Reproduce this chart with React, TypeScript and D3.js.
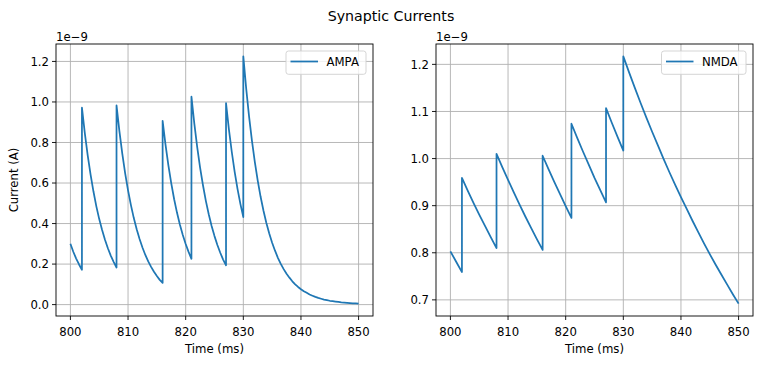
import React from "react";
import * as d3 from "d3";

const timeAmpa: number[] = [
  800, 800.5, 801, 801.5, 802,
  802, 802.5, 803, 803.5, 804, 804.5, 805, 805.5, 806, 806.5, 807, 807.5, 808,
  808, 808.5, 809, 809.5, 810, 810.5, 811, 811.5, 812, 812.5, 813, 813.5, 814, 814.5, 815, 815.5, 816,
  816, 816.5, 817, 817.5, 818, 818.5, 819, 819.5, 820, 820.5, 821,
  821, 821.5, 822, 822.5, 823, 823.5, 824, 824.5, 825, 825.5, 826, 826.5, 827,
  827, 827.5, 828, 828.5, 829, 829.5, 830,
  830, 830.5, 831, 831.5, 832, 832.5, 833, 833.5, 834, 834.5, 835, 835.5, 836, 836.5, 837, 837.5,
  838, 838.5, 839, 839.5, 840, 840.5, 841, 841.5, 842, 842.5, 843, 843.5, 844, 844.5, 845, 845.5,
  846, 846.5, 847, 847.5, 848, 848.5, 849, 849.5, 850,
];

// AMPA current (units of 1e-9 A)
const ampa: number[] = [
  0.300, 0.261, 0.227, 0.198, 0.172,
  0.972, 0.846, 0.736, 0.641, 0.558, 0.485, 0.422, 0.368, 0.320, 0.278, 0.242, 0.211, 0.183,
  0.983, 0.856, 0.745, 0.648, 0.564, 0.491, 0.427, 0.372, 0.324, 0.282, 0.245, 0.213, 0.186, 0.162, 0.141, 0.122, 0.107,
  0.907, 0.789, 0.687, 0.598, 0.520, 0.453, 0.394, 0.343, 0.299, 0.260, 0.226,
  1.026, 0.893, 0.777, 0.676, 0.589, 0.512, 0.446, 0.388, 0.338, 0.294, 0.256, 0.222, 0.194,
  0.994, 0.865, 0.753, 0.655, 0.570, 0.496, 0.432,
  1.225, 1.066, 0.928, 0.808, 0.703, 0.612, 0.532, 0.463, 0.403, 0.351, 0.305, 0.266, 0.231, 0.201, 0.175, 0.152,
  0.133, 0.115, 0.100, 0.087, 0.076, 0.066, 0.058, 0.050, 0.044, 0.038, 0.033, 0.029, 0.025, 0.022, 0.019, 0.017,
  0.015, 0.013, 0.011, 0.0096, 0.0084, 0.0073, 0.0063, 0.0055, 0.0048,
];

const timeNmda: number[] = [
  800, 801, 802,
  802, 803, 804, 805, 806, 807, 808,
  808, 809, 810, 811, 812, 813, 814, 815, 816,
  816, 817, 818, 819, 820, 821,
  821, 822, 823, 824, 825, 826, 827,
  827, 828, 829, 830,
  830, 831, 832, 833, 834, 835, 836, 837, 838, 839, 840, 841, 842, 843, 844, 845, 846, 847, 848, 849, 850,
];

// NMDA current (units of 1e-9 A)
const nmda: number[] = [
  0.803, 0.781, 0.759,
  0.959, 0.932, 0.906, 0.881, 0.857, 0.833, 0.810,
  1.010, 0.982, 0.955, 0.928, 0.902, 0.877, 0.853, 0.829, 0.806,
  1.006, 0.978, 0.951, 0.925, 0.899, 0.874,
  1.074, 1.044, 1.015, 0.987, 0.959, 0.933, 0.907,
  1.107, 1.076, 1.046, 1.017,
  1.217, 1.183, 1.150, 1.118, 1.087, 1.057, 1.028, 0.999, 0.971, 0.944, 0.918, 0.893, 0.868, 0.844, 0.820, 0.797, 0.775, 0.754, 0.733, 0.712, 0.692,
];

const xTicks: number[] = [800, 810, 820, 830, 840, 850];
const ampaTicks: number[] = [0.0, 0.2, 0.4, 0.6, 0.8, 1.0, 1.2];
const nmdaTicks: number[] = [0.7, 0.8, 0.9, 1.0, 1.1, 1.2];

const W = 762;
const H = 365;
const FONT = "DejaVu Sans, sans-serif";
const BLUE = "#1f77b4";
const GRID = "#b0b0b0";
const TICK_FS = 11.7;

type PanelProps = {
  left: number;
  right: number;
  top: number;
  bottom: number;
  t: number[];
  v: number[];
  yTicks: number[];
  label: string;
  yLabel?: string;
  legendW: number;
};

function Panel({ left, right, top, bottom, t, v, yTicks, label, yLabel, legendW }: PanelProps) {
  const [tMin, tMax] = d3.extent(t) as [number, number];
  const [vMin, vMax] = d3.extent(v) as [number, number];
  const xm = (tMax - tMin) * 0.05;
  const ym = (vMax - vMin) * 0.05;
  const x = d3.scaleLinear().domain([tMin - xm, tMax + xm]).range([left, right]);
  const y = d3.scaleLinear().domain([vMin - ym, vMax + ym]).range([bottom, top]);
  const pts: [number, number][] = t.map((ti, i) => [ti, v[i]]);
  const line = d3
    .line<[number, number]>()
    .x((d) => x(d[0]))
    .y((d) => y(d[1]));
  const fmt = d3.format(".1f");
  const lx = right - 7 - legendW;
  return (
    <g>
      {xTicks.map((tk) => (
        <line key={"gx" + tk} x1={x(tk)} x2={x(tk)} y1={top} y2={bottom} stroke={GRID} strokeWidth={0.9} />
      ))}
      {yTicks.map((tk) => (
        <line key={"gy" + tk} x1={left} x2={right} y1={y(tk)} y2={y(tk)} stroke={GRID} strokeWidth={0.9} />
      ))}
      <path d={line(pts) || ""} fill="none" stroke={BLUE} strokeWidth={1.75} strokeLinejoin="round" />
      <rect x={left} y={top} width={right - left} height={bottom - top} fill="none" stroke="#000" strokeWidth={0.9} />
      {xTicks.map((tk) => (
        <g key={"tx" + tk}>
          <line x1={x(tk)} x2={x(tk)} y1={bottom} y2={bottom + 4} stroke="#000" strokeWidth={0.9} />
          <text x={x(tk)} y={bottom + 19.5} textAnchor="middle" fontSize={TICK_FS} fontFamily={FONT} fill="#000">
            {tk}
          </text>
        </g>
      ))}
      {yTicks.map((tk) => (
        <g key={"ty" + tk}>
          <line x1={left - 4} x2={left} y1={y(tk)} y2={y(tk)} stroke="#000" strokeWidth={0.9} />
          <text x={left - 7} y={y(tk) + 4.2} textAnchor="end" fontSize={TICK_FS} fontFamily={FONT} fill="#000">
            {fmt(tk)}
          </text>
        </g>
      ))}
      <text x={left} y={top - 3.5} fontSize={TICK_FS} fontFamily={FONT} fill="#000">
        1e−9
      </text>
      <text x={(left + right) / 2} y={bottom + 37} textAnchor="middle" fontSize={TICK_FS} fontFamily={FONT} fill="#000">
        Time (ms)
      </text>
      {yLabel && (
        <text
          transform={`translate(${left - 38.5},${(top + bottom) / 2}) rotate(-90)`}
          textAnchor="middle"
          fontSize={TICK_FS}
          fontFamily={FONT}
          fill="#000"
        >
          {yLabel}
        </text>
      )}
      <g>
        <rect x={lx} y={top + 7} width={legendW} height={23.3} rx={2.5} fill="#fff" fillOpacity={0.8} stroke="#d0d0d0" strokeWidth={0.9} />
        <line x1={lx + 4.5} x2={lx + 32} y1={top + 17.5} y2={top + 17.5} stroke={BLUE} strokeWidth={1.75} />
        <text x={lx + 40.5} y={top + 21.8} fontSize={TICK_FS} fontFamily={FONT} fill="#000">
          {label}
        </text>
      </g>
    </g>
  );
}

export default function App() {
  return (
    <svg
      width={W}
      height={H}
      viewBox={`0 0 ${W} ${H}`}
      style={{ position: "absolute", left: 0, top: 0, background: "#fff" }}
    >
      <rect x={0} y={0} width={W} height={H} fill="#fff" />
      <text x={391} y={21} textAnchor="middle" fontSize={14.2} fontFamily={FONT} fill="#000">
        Synaptic Currents
      </text>
      <Panel left={56} right={373} top={44} bottom={316} t={timeAmpa} v={ampa} yTicks={ampaTicks} label="AMPA" yLabel="Current (A)" legendW={80} />
      <Panel left={436} right={753} top={44} bottom={316} t={timeNmda} v={nmda} yTicks={nmdaTicks} label="NMDA" legendW={84.5} />
    </svg>
  );
}
